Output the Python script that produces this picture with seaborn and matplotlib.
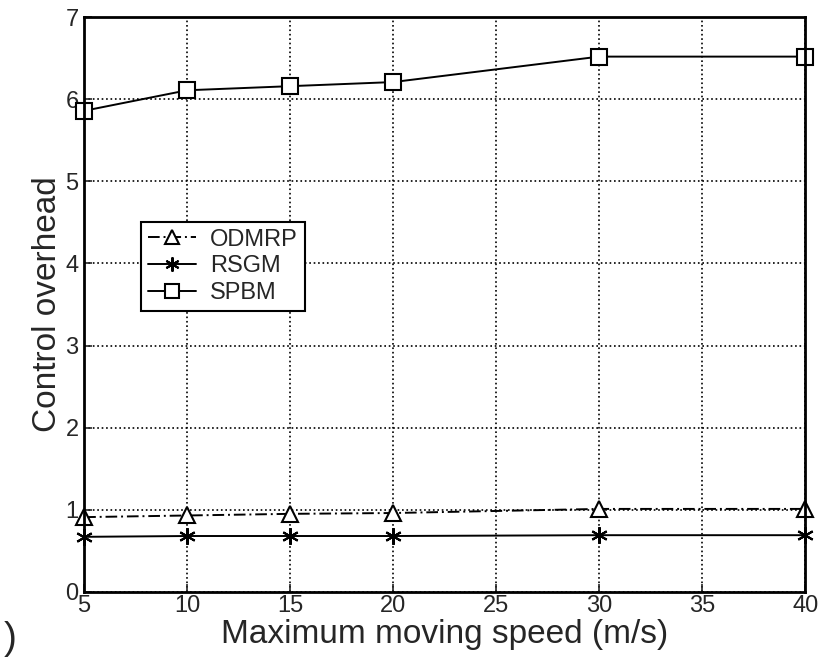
import pandas as pd
import seaborn as sns
import matplotlib.pyplot as plt

# Data
speed = [5, 10, 15, 20, 30, 40]
odmrp = [0.91, 0.93, 0.95, 0.96, 1.01, 1.01]
rsgm = [0.67, 0.68, 0.68, 0.68, 0.69, 0.69]
spbm = [5.86, 6.11, 6.16, 6.21, 6.52, 6.52]
x_ticks = [5, 10, 15, 20, 25, 30, 35, 40]
y_ticks = [0, 1, 2, 3, 4, 5, 6, 7]

df = pd.DataFrame({
    'speed': speed * 3,
    'overhead': odmrp + rsgm + spbm,
    'protocol': ['ODMRP'] * 6 + ['RSGM'] * 6 + ['SPBM'] * 6,
})

sns.set_style('ticks')
plt.rcParams['font.family'] = ['Liberation Sans', 'DejaVu Sans']

fig = plt.figure(figsize=(8.25, 6.62), dpi=100)
ax = fig.add_axes([0.102, 0.106, 0.874, 0.868])

styles = {
    'ODMRP': dict(marker='^', linestyle=(0, (6, 2, 1, 2))),
    'RSGM': dict(marker=(6, 2, 0), linestyle='-'),
    'SPBM': dict(marker='s', linestyle='-'),
}
for name, st in styles.items():
    sub = df[df['protocol'] == name]
    sns.lineplot(data=sub, x='speed', y='overhead', ax=ax, color='black',
                 linewidth=1.4, marker=st['marker'], linestyle=st['linestyle'],
                 markersize=12, markerfacecolor='white', markeredgecolor='black',
                 markeredgewidth=1.5, label=name, clip_on=False, zorder=3)

ax.set_xlim(5, 40)
ax.set_ylim(0, 7)
ax.set_xticks(x_ticks)
ax.set_yticks(y_ticks)
ax.grid(True, linestyle=':', color='black', linewidth=1.2)
ax.tick_params(direction='in', labelsize=17, length=6, width=1.2, pad=2)
ax.tick_params(axis='y', pad=4)
for sp in ax.spines.values():
    sp.set_linewidth(2)
    sp.set_color('black')
    sp.set_zorder(4)

ax.set_xlabel('Maximum moving speed (m/s)', fontsize=24, labelpad=2)
ax.set_ylabel('Control overhead', fontsize=24, labelpad=2)

leg = ax.legend(loc='upper left', bbox_to_anchor=(0.063, 0.665), fontsize=17,
                frameon=True, fancybox=False, edgecolor='black', framealpha=1,
                handlelength=2.0, borderpad=0.3, labelspacing=0.2,
                handletextpad=0.6, markerscale=0.85)
leg.get_frame().set_linewidth(1.5)

fig.text(0.005, 0.02, ')', fontsize=28)

fig.savefig('out.png', dpi=100)
